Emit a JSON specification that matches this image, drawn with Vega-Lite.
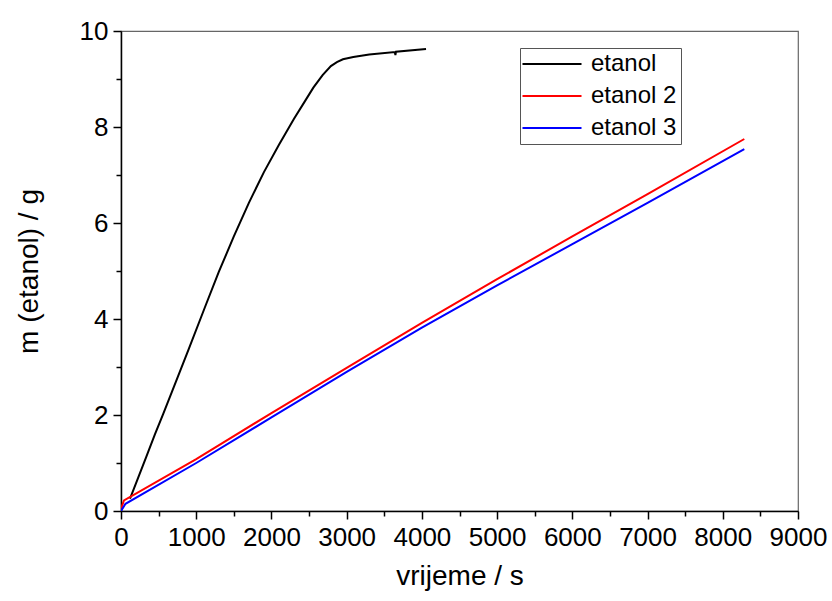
{
  "$schema": "https://vega.github.io/schema/vega-lite/v6.json",
  "width": 677,
  "height": 480,
  "autosize": "none",
  "padding": {"left": 121, "top": 31, "right": 34, "bottom": 90},
  "background": "white",
  "config": {
    "font": "Liberation Sans",
    "view": {"stroke": "#666666", "strokeWidth": 1.2},
    "axis": {
      "grid": false,
      "domainColor": "black",
      "domainWidth": 1.5,
      "tickColor": "black",
      "tickWidth": 1.5,
      "labelColor": "black",
      "titleColor": "black",
      "labelFont": "Liberation Sans",
      "titleFont": "Liberation Sans",
      "labelFontSize": 26,
      "titleFontSize": 28,
      "titleFontWeight": "normal"
    }
  },
  "data": {
    "values": [
      {"s": "etanol", "t": 120, "m": 0.26},
      {"s": "etanol", "t": 230, "m": 0.70},
      {"s": "etanol", "t": 341, "m": 1.15},
      {"s": "etanol", "t": 452, "m": 1.6},
      {"s": "etanol", "t": 560, "m": 2.02},
      {"s": "etanol", "t": 674, "m": 2.47},
      {"s": "etanol", "t": 895, "m": 3.35},
      {"s": "etanol", "t": 1117, "m": 4.25},
      {"s": "etanol", "t": 1300, "m": 4.98},
      {"s": "etanol", "t": 1500, "m": 5.72},
      {"s": "etanol", "t": 1700, "m": 6.42},
      {"s": "etanol", "t": 1900, "m": 7.06},
      {"s": "etanol", "t": 2100, "m": 7.63},
      {"s": "etanol", "t": 2300, "m": 8.17},
      {"s": "etanol", "t": 2450, "m": 8.55},
      {"s": "etanol", "t": 2557, "m": 8.82},
      {"s": "etanol", "t": 2680, "m": 9.08},
      {"s": "etanol", "t": 2790, "m": 9.27},
      {"s": "etanol", "t": 2870, "m": 9.35},
      {"s": "etanol", "t": 2950, "m": 9.41},
      {"s": "etanol", "t": 3088, "m": 9.46},
      {"s": "etanol", "t": 3300, "m": 9.51},
      {"s": "etanol", "t": 3640, "m": 9.56},
      {"s": "etanol", "t": 3648, "m": 9.50},
      {"s": "etanol", "t": 3656, "m": 9.57},
      {"s": "etanol", "t": 4055, "m": 9.625},
      {"s": "etanol 2", "t": 0, "m": 0.05},
      {"s": "etanol 2", "t": 40, "m": 0.22},
      {"s": "etanol 2", "t": 1000, "m": 1.08},
      {"s": "etanol 2", "t": 2000, "m": 2.04},
      {"s": "etanol 2", "t": 3000, "m": 2.98},
      {"s": "etanol 2", "t": 4000, "m": 3.92},
      {"s": "etanol 2", "t": 5000, "m": 4.83},
      {"s": "etanol 2", "t": 6000, "m": 5.72},
      {"s": "etanol 2", "t": 7000, "m": 6.60},
      {"s": "etanol 2", "t": 8286, "m": 7.75},
      {"s": "etanol 3", "t": 0, "m": 0.0},
      {"s": "etanol 3", "t": 60, "m": 0.15},
      {"s": "etanol 3", "t": 1000, "m": 1.0},
      {"s": "etanol 3", "t": 2000, "m": 1.95},
      {"s": "etanol 3", "t": 3000, "m": 2.9},
      {"s": "etanol 3", "t": 4000, "m": 3.82},
      {"s": "etanol 3", "t": 5000, "m": 4.7},
      {"s": "etanol 3", "t": 6000, "m": 5.56},
      {"s": "etanol 3", "t": 7000, "m": 6.42},
      {"s": "etanol 3", "t": 8286, "m": 7.54}
    ]
  },
  "mark": {"type": "line", "strokeWidth": 2, "clip": true},
  "encoding": {
    "x": {
      "field": "t",
      "type": "quantitative",
      "scale": {"domain": [0, 9000], "nice": false, "zero": false},
      "axis": {
        "title": "vrijeme / s",
        "values": [0, 500, 1000, 1500, 2000, 2500, 3000, 3500, 4000, 4500, 5000, 5500, 6000, 6500, 7000, 7500, 8000, 8500, 9000],
        "labelExpr": "datum.value % 1000 === 0 ? datum.value : ''",
        "tickSize": {"condition": {"test": "datum.value % 1000 === 0", "value": 8}, "value": 5},
        "labelPadding": 5,
        "titlePadding": 12,
        "labelFlush": false
      }
    },
    "y": {
      "field": "m",
      "type": "quantitative",
      "scale": {"domain": [0, 10], "nice": false, "zero": false},
      "axis": {
        "title": "m (etanol) / g",
        "values": [0, 1, 2, 3, 4, 5, 6, 7, 8, 9, 10],
        "labelExpr": "datum.value % 2 === 0 ? datum.value : ''",
        "tickSize": {"condition": {"test": "datum.value % 2 === 0", "value": 8}, "value": 5},
        "labelPadding": 5,
        "titlePadding": 36,
        "labelFlush": false
      }
    },
    "color": {
      "field": "s",
      "type": "nominal",
      "scale": {"domain": ["etanol", "etanol 2", "etanol 3"], "range": ["#000000", "#ff0000", "#0000ff"]},
      "legend": {
        "title": null,
        "orient": "none",
        "legendX": 399,
        "legendY": 17,
        "symbolType": "M-3,0H3",
        "symbolSize": 387,
        "symbolStrokeWidth": 2,
        "symbolOffset": 16,
        "labelFontSize": 24,
        "labelFont": "Liberation Sans",
        "labelColor": "black",
        "labelOffset": 27,
        "strokeColor": "#555555",
        "padding": 4,
        "rowPadding": 8,
        "fillColor": "white"
      }
    }
  }
}
